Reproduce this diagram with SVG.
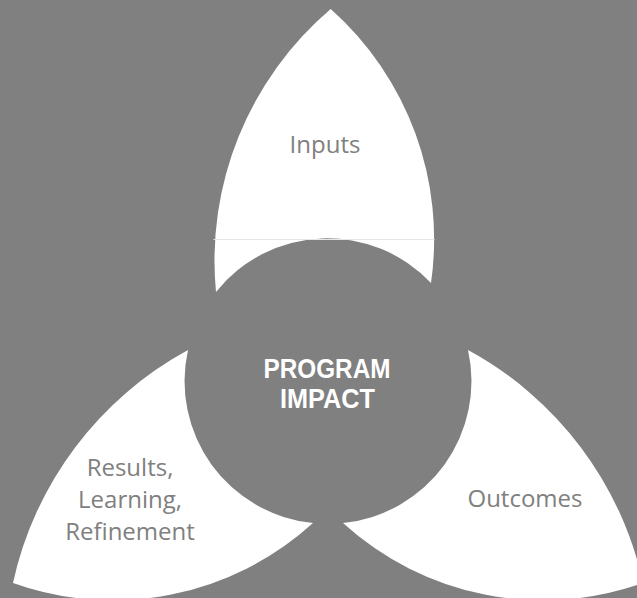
<svg xmlns="http://www.w3.org/2000/svg" width="637" height="598" viewBox="0 0 637 598">
  <style>
    .petal { fill: #ffffff; stroke: none; }
    .label { font-family: "Open Sans", "Noto Sans", "DejaVu Sans", sans-serif; font-size: 24px; fill: #808080; text-anchor: middle; }
    .title { font-family: "Liberation Sans", Arial, sans-serif; font-weight: bold; font-size: 27.5px; fill: #ffffff; text-anchor: middle; }
    .seam { stroke: #e6e6e6; stroke-width: 1; }
  </style>
  <rect x="0" y="0" width="637" height="598" fill="#808080"/>
  <g id="connectors"></g>
  <g id="node-impact">
    <circle cx="328" cy="381.5" r="142.5" fill="#808080"/>
  </g>
  <g id="node-inputs">
    <path class="petal" d="M 330.7 9 A 308 308 0 0 1 431 283 A 142.5 142.5 0 0 0 216 292 A 330 330 0 0 1 330.7 9 Z"/>
    <line class="seam" x1="213.5" y1="239.5" x2="434.5" y2="239.5"/>
    <text class="label" x="325" y="153">Inputs</text>
  </g>
  <g id="node-results">
    <path class="petal" d="M 13 583 A 350 350 0 0 1 188 350 A 142.5 142.5 0 0 0 313 523 A 297.5 297.5 0 0 1 13 583 Z"/>
    <text class="label" x="130" y="476">Results,</text>
    <text class="label" x="130" y="508">Learning,</text>
    <text class="label" x="130" y="540">Refinement</text>
  </g>
  <g id="node-outcomes">
    <path class="petal" d="M 643 583 A 350 350 0 0 0 468 350 A 142.5 142.5 0 0 1 343 523 A 297.5 297.5 0 0 0 643 583 Z"/>
    <text class="label" x="525" y="507">Outcomes</text>
  </g>
  <g id="node-impact-text">
    <text class="title" x="327" y="378.3" textLength="127" lengthAdjust="spacingAndGlyphs">PROGRAM</text>
    <text class="title" x="327.5" y="408.3" textLength="95" lengthAdjust="spacingAndGlyphs">IMPACT</text>
  </g>
</svg>
